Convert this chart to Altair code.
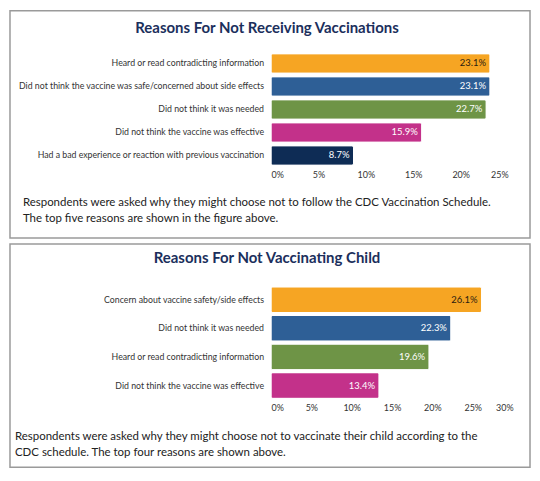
import altair as alt
import pandas as pd

# top panel data
top_reasons = [
    "Heard or read contradicting information",
    "Did not think the vaccine was safe/concerned about side effects",
    "Did not think it was needed",
    "Did not think the vaccine was effective",
    "Had a bad experience or reaction with previous vaccination",
]
top_values = [23.1, 23.1, 22.7, 15.9, 8.7]
top_ticks = [0, 5, 10, 15, 20, 25]
top_title = "Reasons For Not Receiving Vaccinations"
top_caption = ("Respondents were asked why they might choose not to follow the CDC Vaccination Schedule.\n"
               "The top five reasons are shown in the figure above.")

# bottom panel data
bot_reasons = [
    "Concern about vaccine safety/side effects",
    "Did not think it was needed",
    "Heard or read contradicting information",
    "Did not think the vaccine was effective",
]
bot_values = [26.1, 22.3, 19.6, 13.4]
bot_ticks = [0, 5, 10, 15, 20, 25, 30]
bot_title = "Reasons For Not Vaccinating Child"
bot_caption = ("Respondents were asked why they might choose not to vaccinate their child according to the\n"
               "CDC schedule. The top four reasons are shown above.")

COLORS = ["#F6A523", "#2E5F96", "#6E9446", "#C3318A", "#0E2C55"]
NAVY = "#1B2F5C"
W = 522


def panel(reasons, values, ticks, title, caption, h, title_y, bar_top, bar_bot,
          pad_inner, axis_y, cap_x, cap_y, x_end):
    df = pd.DataFrame({
        "reason": reasons,
        "value": values,
        "label": [f"{v:.1f}%" for v in values],
        "rank": list(range(len(reasons))),
    })
    y_enc = alt.Y("reason:N", sort=reasons, axis=None,
                  scale=alt.Scale(range=[bar_top, bar_bot], paddingInner=pad_inner, paddingOuter=0))
    x_scale = alt.Scale(domain=[ticks[0], ticks[-1]], range=[262, x_end], nice=False)

    bars = alt.Chart(df).mark_bar(cornerRadius=2, stroke="white", strokeWidth=1).encode(
        x=alt.X("value:Q", scale=x_scale,
                axis=alt.Axis(values=ticks, labelExpr="datum.value + '%'", domain=False,
                              ticks=False, grid=False, title=None, labelPadding=0,
                              labelFontSize=9, labelColor="#333", labelBaseline="middle",
                              offset=-(h - axis_y))),
        y=y_enc,
        color=alt.Color("reason:N", scale=alt.Scale(domain=reasons, range=COLORS[:len(reasons)]),
                        legend=None),
    )
    vals = alt.Chart(df).mark_text(align="right", dx=-4, fontSize=9.5).encode(
        x=alt.X("value:Q", scale=x_scale),
        y=y_enc,
        text="label:N",
        color=alt.condition("datum.rank == 0", alt.value("#2b2010"), alt.value("white")),
    )
    cats = alt.Chart(df).mark_text(align="right", fontSize=8.8, color="#333").encode(
        x=alt.value(255),
        y=y_enc,
        text="reason:N",
    )
    ttl = alt.Chart(pd.DataFrame({"t": [title]})).mark_text(
        fontSize=15, fontWeight="bold", color=NAVY, align="center", baseline="middle"
    ).encode(text="t:N", x=alt.value(258), y=alt.value(title_y))
    cap = alt.Chart(pd.DataFrame({"t": [caption]})).mark_text(
        fontSize=11.5, color="#222", align="left", baseline="middle", lineBreak="\n", lineHeight=16
    ).encode(text="t:N", x=alt.value(cap_x), y=alt.value(cap_y))

    return alt.layer(bars, vals, cats, ttl, cap).properties(width=W, height=h)


top = panel(top_reasons, top_values, top_ticks, top_title, top_caption,
            h=228, title_y=17, bar_top=43, bar_bot=155, pad_inner=0.15,
            axis_y=164, cap_x=13, cap_y=193, x_end=500)
bottom = panel(bot_reasons, bot_values, bot_ticks, bot_title, bot_caption,
               h=224, title_y=14, bar_top=43, bar_bot=155, pad_inner=0.1,
               axis_y=164, cap_x=5, cap_y=194, x_end=505)

chart = alt.vconcat(top, bottom, spacing=4).resolve_scale(
    color="independent"
).properties(padding=1).configure(
    font="Lato"
).configure_view(stroke="#9a9a9a", strokeWidth=1.5)

chart.save("out.html", embed_options={"renderer": "svg", "actions": False})
